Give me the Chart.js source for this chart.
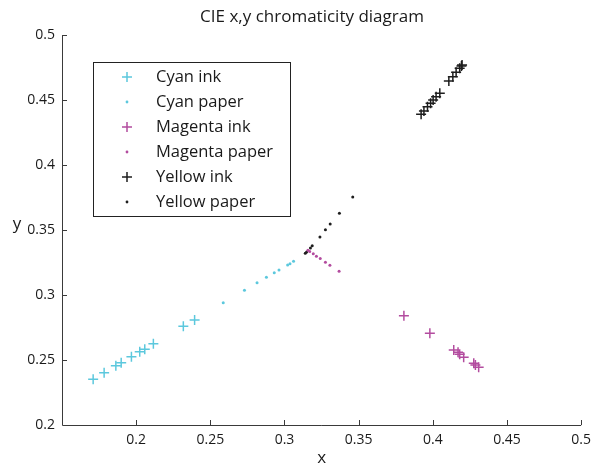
<!DOCTYPE html>
<html>
<head>
<meta charset="utf-8">
<title>CIE x,y chromaticity diagram</title>
<script src="https://cdn.jsdelivr.net/npm/chart.js@4.4.1/dist/chart.umd.min.js"></script>
<style>
  html, body { margin: 0; padding: 0; background: #fff; }
  #chart { display: block; }
</style>
</head>
<body>
<canvas id="chart" width="598" height="468"></canvas>
<script>
// measured chromaticity points (x, y)
const cyanInkX = [0.171, 0.1784, 0.1863, 0.1899, 0.1968, 0.2024, 0.2058, 0.2116, 0.2318, 0.2394];
const cyanInkY = [0.2352, 0.2402, 0.2456, 0.2479, 0.2525, 0.2564, 0.2582, 0.2625, 0.2759, 0.2808];

const cyanPaperX = [0.2587, 0.273, 0.2815, 0.2878, 0.2931, 0.2963, 0.3021, 0.3037, 0.3061];
const cyanPaperY = [0.2941, 0.3036, 0.3095, 0.3136, 0.3172, 0.3192, 0.3231, 0.3241, 0.3259];

const magentaInkX = [0.3805, 0.398, 0.4141, 0.417, 0.4181, 0.4208, 0.4276, 0.4287, 0.4309];
const magentaInkY = [0.2841, 0.2705, 0.2577, 0.2559, 0.2544, 0.2521, 0.2475, 0.2462, 0.2444];

const magentaPaperX = [0.3158, 0.317, 0.3194, 0.3215, 0.3241, 0.3276, 0.3306, 0.3368];
const magentaPaperY = [0.3344, 0.3335, 0.3317, 0.3298, 0.3281, 0.3252, 0.3228, 0.3182];

const yellowInkX = [0.3921, 0.394, 0.3964, 0.3985, 0.4002, 0.4022, 0.4047, 0.4108, 0.4135, 0.4157, 0.4181, 0.4193, 0.4197];
const yellowInkY = [0.439, 0.4415, 0.4448, 0.4475, 0.45, 0.4525, 0.4551, 0.4646, 0.4679, 0.4713, 0.4744, 0.4762, 0.4769];

const yellowPaperX = [0.314, 0.3149, 0.3175, 0.3187, 0.3239, 0.3276, 0.3308, 0.337, 0.346];
const yellowPaperY = [0.3321, 0.3331, 0.3362, 0.3379, 0.3446, 0.3502, 0.3546, 0.3628, 0.3754];

const xTicks = [0.15, 0.2, 0.25, 0.3, 0.35, 0.4, 0.45, 0.5];
const yTicks = [0.2, 0.25, 0.3, 0.35, 0.4, 0.45, 0.5];

const CYAN = '#5cc8dd';
const MAGENTA = '#b34c9f';
const BLACK = '#1e1e1e';
const AXIS = '#3a3a3a';
const FONT = '"Open Sans", "Noto Sans", sans-serif';

const toPoints = (xs, ys) => xs.map((x, i) => ({ x: x, y: ys[i] }));

const inkSet = (label, xs, ys, color) => ({
  label: label,
  data: toPoints(xs, ys),
  pointStyle: 'cross',
  pointRadius: 5,
  borderWidth: 1.5,
  borderColor: color,
  backgroundColor: color,
  showLine: false
});

const paperSet = (label, xs, ys, color) => ({
  label: label,
  data: toPoints(xs, ys),
  pointStyle: 'circle',
  pointRadius: 1.5,
  borderWidth: 0,
  backgroundColor: color,
  borderColor: color,
  showLine: false
});

// axis lines with inward ticks, title, axis labels and the boxed legend
const decorations = {
  id: 'decorations',
  afterDraw(chart) {
    const ctx = chart.ctx;
    const area = chart.chartArea;
    const xs = chart.scales.x;
    const ys = chart.scales.y;
    ctx.save();

    ctx.strokeStyle = AXIS;
    ctx.lineWidth = 1;
    ctx.beginPath();
    ctx.moveTo(area.left + 0.5, area.top);
    ctx.lineTo(area.left + 0.5, area.bottom + 0.5);
    ctx.lineTo(area.right, area.bottom + 0.5);
    xTicks.forEach(v => {
      if (v === xTicks[0]) return;
      const px = Math.round(xs.getPixelForValue(v)) + 0.5;
      ctx.moveTo(px, area.bottom);
      ctx.lineTo(px, area.bottom - 5);
    });
    yTicks.forEach(v => {
      if (v === yTicks[0]) return;
      const py = Math.round(ys.getPixelForValue(v)) + 0.5;
      ctx.moveTo(area.left, py);
      ctx.lineTo(area.left + 5, py);
    });
    ctx.stroke();

    ctx.fillStyle = '#1a1a1a';
    ctx.textAlign = 'center';
    ctx.textBaseline = 'middle';
    ctx.font = '17px ' + FONT;
    ctx.fillText('CIE x,y chromaticity diagram', 312, 17);
    ctx.font = '17px ' + FONT;
    ctx.fillText('x', (area.left + area.right) / 2, 458);
    ctx.fillText('y', 17, 224);

    // legend
    const lx = 93, ly = 62, lw = 197, lh = 154;
    ctx.fillStyle = '#fff';
    ctx.fillRect(lx, ly, lw, lh);
    ctx.strokeStyle = '#222';
    ctx.strokeRect(lx + 0.5, ly + 0.5, lw, lh);
    ctx.font = '16.5px ' + FONT;
    ctx.textAlign = 'left';
    chart.data.datasets.forEach((ds, i) => {
      const cy = ly + 15 + i * 25;
      const mx = 127;
      ctx.strokeStyle = ds.borderColor;
      ctx.fillStyle = ds.backgroundColor;
      if (ds.pointStyle === 'cross') {
        ctx.lineWidth = 1.5;
        ctx.beginPath();
        ctx.moveTo(mx - 5, cy);
        ctx.lineTo(mx + 5, cy);
        ctx.moveTo(mx, cy - 5);
        ctx.lineTo(mx, cy + 5);
        ctx.stroke();
      } else {
        ctx.beginPath();
        ctx.arc(mx, cy, 1.4, 0, Math.PI * 2);
        ctx.fill();
      }
      ctx.fillStyle = '#1a1a1a';
      ctx.fillText(ds.label, 156, cy);
    });
    ctx.restore();
  }
};

new Chart(document.getElementById('chart'), {
  type: 'scatter',
  data: {
    datasets: [
      inkSet('Cyan ink', cyanInkX, cyanInkY, CYAN),
      paperSet('Cyan paper', cyanPaperX, cyanPaperY, CYAN),
      inkSet('Magenta ink', magentaInkX, magentaInkY, MAGENTA),
      paperSet('Magenta paper', magentaPaperX, magentaPaperY, MAGENTA),
      inkSet('Yellow ink', yellowInkX, yellowInkY, BLACK),
      paperSet('Yellow paper', yellowPaperX, yellowPaperY, BLACK)
    ]
  },
  options: {
    responsive: false,
    animation: false,
    layout: { padding: { top: 35, right: 16, bottom: 0, left: 0 } },
    plugins: {
      legend: { display: false },
      title: { display: false },
      tooltip: { enabled: false }
    },
    scales: {
      x: {
        type: 'linear',
        min: xTicks[0],
        max: xTicks[xTicks.length - 1],
        afterBuildTicks: s => { s.ticks = xTicks.map(v => ({ value: v })); },
        afterFit: s => { s.height = 43; },
        ticks: {
          color: '#1a1a1a',
          font: { family: FONT, size: 14 },
          padding: 7,
          maxRotation: 0,
          autoSkip: false,
          callback: v => (v === xTicks[0] ? '' : String(+v.toFixed(2)))
        },
        grid: { display: false, drawTicks: false },
        border: { display: false }
      },
      y: {
        type: 'linear',
        min: yTicks[0],
        max: yTicks[yTicks.length - 1],
        afterBuildTicks: s => { s.ticks = yTicks.map(v => ({ value: v })); },
        afterFit: s => { s.width = 62; },
        ticks: {
          color: '#1a1a1a',
          font: { family: FONT, size: 14 },
          padding: 7,
          autoSkip: false,
          callback: v => String(+v.toFixed(2))
        },
        grid: { display: false, drawTicks: false },
        border: { display: false }
      }
    }
  },
  plugins: [decorations]
});
</script>
</body>
</html>
